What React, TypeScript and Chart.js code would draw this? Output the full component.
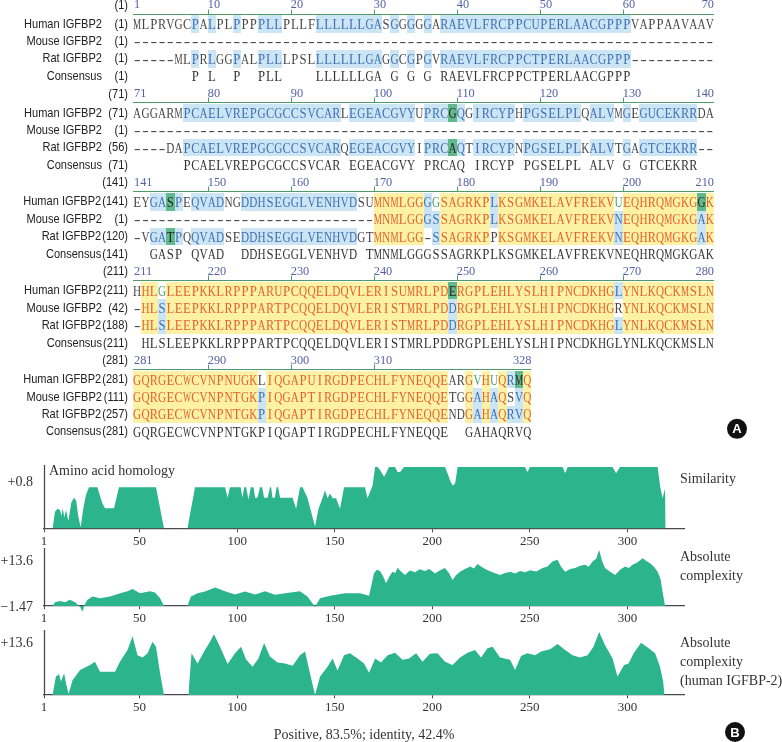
import React, { useEffect, useRef } from 'react';
import { Chart, registerables } from 'chart.js';

Chart.register(...registerables);

// ================= Alignment data (panel A) =================
const blockStarts = [1, 71, 141, 211, 281];
const blockEnds = [70, 140, 210, 280, 328];
const rulerTicks = [
  [10, 20, 30, 40, 50, 60],
  [80, 90, 100, 110, 120, 130],
  [150, 160, 170, 180, 190, 200],
  [220, 230, 240, 250, 260, 270],
  [290, 300, 310],
];
const rowNames = ['Human IGFBP2', 'Mouse IGFBP2', 'Rat IGFBP2', 'Consensus'];
const humanNums = [1, 71, 141, 211, 281];
const mouseNums = [1, 1, 1, 42, 111];
const ratNums = [1, 56, 120, 188, 257];
const consensusNums = [1, 71, 141, 211, 281];

const humanSeq = [
  'MLPRVGCPALPLPPPPLLPLLFLLLLLLGASGGGGGARAEVLFRCPPCUPERLAACGPPPVAPPAAVAAV',
  'AGGARMPCAELVREPGCGCCSVCARLEGEACGVYUPRCGQGIRCYPHPGSELPLQALVMGEGUCEKRRDA',
  'EYGASPEQVADNGDDHSEGGLVENHVDSUMNMLGGGGSAGRKPLKSGMKELAVFREKVUEQHRQMGKGGK',
  'HHLGLEEPKKLRPPPARUPCQQELDQVLERISUMRLPDERGPLEHLYSLHIPNCDKHGLYNLKQCKMSLN',
  'GQRGECWCVNPNUGKLIQGAPUIRGDPECHLFYNEQQEARGVHUQRMQ',
];
const mouseSeq = [
  '----------' + '----------' + '----------' + '----------' + '----------' + '----------' + '----------',
  '----------' + '----------' + '----------' + '----------' + '----------' + '----------' + '----------',
  '----------' + '----------' + '---------' + 'MNMLGGGSSAGRKPLKSGMKELAVFREKVNEQHRQMGKGAK',
  '-HLSLEEPKKLRPPPARTPCQQELDQVLERISTMRLPDDRGPLEHLYSLHIPNCDKHGRYNLKQCKMSLN',
  'GQRGECWCVNPNTGKPIQGAPTIRGDPECHLFYNEQQETGGAHAQSVQ',
];
const ratSeq = [
  '-----MLPRLGGPALPLLLPSLLLLLLLGAGGCGPGVRAEVLFRCPPCTPERLAACGPPP----------',
  '----DAPCAELVREPGCGCCSVCARQEGEACGVYIPRCAQTIRCYPNPGSELPLKALVTGAGTCEKRR--',
  '-VGATPQQVADSEDDHSEGGLVENHVDGTMNMLGG-SSAGRKPPKSGMKELAVFREKVNEQHRQMGKGAK',
  '-HLSLEEPKKLRPPPARTPCQQELDQVLERISTMRLPDDRGPLEHLYSLHIPNCDKHGLYNLKQCKMSLN',
  'GQRGECWCVNPNTGKPIQGAPTIRGDPECHLFYNEQQENDGAHAQRVQ',
];
// '.' = empty consensus column
const consensusSeq = [
  '.......P.L..P..PLL....LLLLLLGA.G.G.G.RAEVLFRCPPCTPERLAACGPPP..........',
  '......PCAELVREPGCGCCSVCAR.EGEACGVY.PRCAQ.IRCYP.PGSELPL.ALV.G.GTCEKRR..',
  '..GASP.QVAD..DDHSEGGLVENHVD.TMNMLGGGSSAGRKPLKSGMKELAVFREKVNEQHRQMGKGAK',
  '.HLSLEEPKKLRPPPARTPCQQELDQVLERISTMRLPDDRGPLEHLYSLHIPNCDKHGLYNLKQCKMSLN',
  'GQRGECWCVNPNTGKPIQGAPTIRGDPECHLFYNEQQE..GAHAQRVQ',
];
// run-length shading codes: y identical, b conserved, g similar, l weakly similar, w none
const humanStyle = [
  'w7b1w1b1w2b1w2b3w4b8w1b1w1b1w1b1w1b23w10',
  'w6b19w1b8w1b3g1b1w1b5w1b7w1b3w1b1w1b7w2',
  'w2b2g1b1w1b4w2b14w2y6b1l1y6b1y14l1y9g1y1',
  'w1y2l1y34g1y19b1y11',
  'y15w1y22w2y1l1y1l1y1b1g1y1',
];
const mouseStyle = [
  'w70',
  'w70',
  'w29y6b2y6b1y14b1y9b1y1',
  'w1y2b1y34b1y19w1y11',
  'y15b1y22w2y1b1y1b1y1w1b1y1',
];
const ratStyle = [
  'w7b1w1b1w2b1w2b3w4b8w1b1w1b1w1b1w1b23w10',
  'w6b19w1b8w1b3g1b1w1b5w1b7w1b3w1b1w1b7w2',
  'w2b2g1b1w1b4w2b14w2y6w1b1y6w1y14b1y9b1y1',
  'w1y2b1y34b1y19b1y11',
  'y15b1y22w2y1b1y1b1y1b1b1y1',
];

// ================= Profile data (panel B) =================
const xTickValues = [1, 50, 100, 150, 200, 250, 300];

const simPos = [5.4, 6.6, 8, 9.2, 10, 10.5, 11.5, 12.3, 13.5, 15, 16.4, 17.5, 18.5, 19.8, 21, 22.5, 24.1, 28.4, 29.5, 31, 32.3, 36.9, 39.4, 58.4, 62.5, 68, 74.5, 78.4, 93.8, 95.1, 96.3, 101.8, 102.7, 103.6, 104.6, 105.8, 107, 108.4, 109.2, 110.4, 111.7, 112.8, 113.8, 115.6, 116.8, 117.4, 118.1, 119.3, 120.2, 121, 122, 128.4, 130.2, 132.2, 133.5, 136, 139.9, 141.7, 143.8, 145, 146.3, 147.6, 148.9, 150.7, 152.7, 154.8, 165.5, 166.8, 169.4, 170.7, 171.9, 173.2, 175.3, 176.6, 177.8, 180.9, 182.2, 183.5, 185.5, 206.5, 207.8, 209.1, 210.4, 211.7, 213, 247.5, 248.8, 250.1, 266.8, 268.1, 269.4, 292.4, 294.2, 296.2, 315.5, 316.7, 318, 319.3, 319.6];
const simVal = [0, 0.27, 0.32, 0.3, 0.2, 0.33, 0.18, 0.3, 0.12, 0.42, 0.5, 0.45, 0.2, 0.02, 0.3, 0.55, 0.67, 0.67, 0.55, 0.4, 0.33, 0.33, 0.67, 0.67, 0, null, 0, 0.67, 0.67, 0.5, 0.67, 0.67, 0.5, 0.67, 0.67, 0.47, 0.67, 0.67, 0.5, 0.5, 0.67, 0.67, 0.5, 0.5, 0.67, 0.67, 0.5, 0.5, 0.67, 0.67, 0.5, 0.5, 0.32, 0.67, 0.67, 0.5, 0.03, 0.32, 0.5, 0.62, 0.49, 0.57, 0.49, 0.49, 0.32, 0.67, 0.67, 0.49, 0.7, 1, 1, 0.95, 0.84, 0.92, 1, 1, 0.92, 0.92, 1, 1, 0.9, 0.78, 0.7, 0.73, 1, 1, 0.92, 1, 1, 0.9, 1, 1, 0.9, 1, 1, 0.7, 0.49, 0.65, 0];

const cxPos = [5.4, 6.6, 9.2, 11.8, 14.3, 16.9, 19.5, 20.7, 21.8, 23.3, 25.9, 29.7, 34.8, 40, 43.8, 46.4, 50.2, 55.3, 57.9, 60.5, 62.5, 68, 74.5, 76.3, 79.7, 83.5, 88.7, 93.8, 98.9, 104, 109.2, 114.3, 119.4, 124.5, 132.2, 136, 139.9, 142.5, 147.6, 155.3, 163, 167.6, 170.1, 171.5, 173.2, 174.8, 176.3, 177.8, 179.6, 181, 182.2, 184, 186, 188.5, 191.2, 193.5, 196.3, 198.5, 201.4, 203.8, 206.5, 208.5, 210.4, 212, 214.2, 216.8, 219.4, 221.3, 223.2, 225.5, 228.3, 231.5, 234.7, 237.3, 239.9, 242.5, 245, 247.5, 250.1, 253.3, 256.5, 259, 261.6, 264.2, 266, 268.1, 270.7, 273.2, 275.8, 278.3, 280.2, 282.1, 284, 285.5, 287, 288.5, 291, 293.7, 296.3, 298.8, 300.7, 302.6, 305.2, 307.8, 309.7, 311.6, 313.6, 315.5, 317, 318, 319.3];
const cxVal = [0, 0.9, 1.2, 0.9, 1.5, 0.9, -0.2, -1.4, 0.3, 1.5, 2.3, 1.9, 2.3, 3.1, 3.6, 4.1, 3.1, 3.6, 3.3, 1.9, 0, null, 0, 2.3, 3.1, 3.5, 4.5, 3.6, 2.8, 3.5, 2.8, 3.6, 2.7, 3.1, 3.6, 2.3, -0.2, 1.9, 2.5, 3.1, 3.1, 2.5, 7.9, 8.8, 8.5, 7.2, 5.5, 7.0, 8.3, 8.0, 9.3, 8.4, 7.5, 8.6, 8.2, 8.9, 8.5, 9.0, 7.9, 8.6, 9.2, 8.0, 6.3, 7.4, 8.3, 9.0, 9.6, 9.1, 10.2, 9.4, 8.7, 8.1, 7.5, 8.0, 8.3, 7.9, 8.5, 8.2, 8.7, 8.4, 9.2, 9.6, 10.8, 11.2, 9.5, 8.3, 9.0, 9.2, 9.8, 10, 9.5, 10.8, 11.5, 13.6, 11.0, 9.2, 8.4, 7.5, 8.8, 9.6, 9.2, 10, 10.6, 11.6, 10.9, 10.4, 9.5, 8.3, 6.5, 3.5, 0];

const hxPos = [5.4, 7.1, 8.7, 9.7, 11.3, 12.3, 13.6, 15.6, 19.5, 24.6, 27.1, 29.7, 33.5, 37.4, 39.9, 43.8, 46.4, 48.9, 51.5, 54.1, 56.6, 58.4, 60.5, 62.5, 68, 75, 76.6, 79.7, 83.5, 86.1, 88.1, 91.2, 95.1, 98.9, 102, 104.5, 107.9, 110.9, 113.8, 116.8, 120.7, 124.5, 128.4, 132.2, 134.8, 137.3, 139.9, 142.5, 146.3, 148.9, 151.4, 154.8, 157.8, 161.7, 165, 167.6, 170.7, 173.7, 177.1, 180.9, 184.8, 188.1, 191.7, 195, 198.8, 202.7, 206.5, 210.4, 214.2, 218.1, 221.9, 225, 228.3, 230.9, 234.7, 239.9, 242.4, 245.5, 248.8, 252.7, 255.8, 260.4, 264.2, 268.1, 271.9, 275.7, 279.6, 282.6, 285.5, 288.5, 292.4, 294.9, 298.3, 300.6, 303.2, 307, 310.9, 314.2, 316.7, 318.3, 319];
const hxVal = [0, 4.0, 4.5, 2.9, 4.7, 2.5, 0.2, 3.2, 5.4, 6.5, 7.2, 5.0, 5.0, 5.0, 7.2, 9.7, 12.7, 8.6, 8.1, 9.0, 11.5, 10.4, 4.7, 0, null, 0, 9.0, 6.8, 9.7, 11.5, 13.1, 10.4, 6.7, 9.0, 10.4, 7.7, 6.1, 7.9, 11.2, 8.3, 7.0, 6.8, 6.3, 8.6, 9.4, 4.7, 0, 4.0, 6.1, 7.9, 5.3, 8.6, 9.0, 7.9, 6.8, 4.8, 7.9, 7.0, 8.6, 9.1, 7.6, 7.9, 9.0, 7.2, 8.9, 9.0, 7.2, 6.5, 8.1, 9.1, 9.7, 8.1, 10.1, 10.4, 8.1, 7.6, 5.4, 8.4, 9.0, 8.6, 9.4, 9.9, 11.0, 9.7, 8.6, 8.1, 8.6, 10.4, 13.6, 10.8, 7.9, 4.0, 6.5, 6.8, 9.0, 11.3, 10.1, 9.0, 6.1, 2.9, 0];

// ================= helpers =================
const SERIF = '"Liberation Serif", "Times New Roman", serif';
const SANS = '"Liberation Sans", Arial, sans-serif';
const FILL = '#2cb48d';
const AXIS = '#4a4a4a';

const SHADE: any = {
  y: { bg: '#fcf1a5', fg: '#e4632c' },
  b: { bg: '#cce5f4', fg: '#3f71b4' },
  g: { bg: '#62b98d', fg: '#262626' },
  w: { bg: null, fg: '#474747' },
  l: { bg: null, fg: '#4d9f6c' },
};

function expandStyle(rle: string): string {
  let out = '';
  const re = /([a-z])(\d+)/g;
  let m: any;
  while ((m = re.exec(rle))) out += m[1].repeat(parseInt(m[2], 10));
  return out;
}

function scaledText(ctx: any, text: string, x: number, y: number, align: string, sx: number) {
  ctx.save();
  ctx.translate(x, y);
  ctx.scale(sx, 1);
  ctx.textAlign = align;
  ctx.fillText(text, 0, 0);
  ctx.restore();
}

const BLOCK_STEP = 5.11;
const RULER_TEXT = -1.09;
const RULER_LINE = -0.6;

const alignmentPlugin = {
  id: 'alignmentDraw',
  afterDraw(chart: any) {
    const { ctx, chartArea } = chart;
    const xs = chart.scales.x;
    const ys = chart.scales.y;
    const cw = xs.getPixelForValue(1) - xs.getPixelForValue(0);
    const rows = [
      { seq: humanSeq, style: humanStyle, nums: humanNums },
      { seq: mouseSeq, style: mouseStyle, nums: mouseNums },
      { seq: ratSeq, style: ratStyle, nums: ratNums },
      { seq: consensusSeq, style: null as any, nums: consensusNums },
    ];
    ctx.save();
    blockStarts.forEach((start, k) => {
      const base = k * BLOCK_STEP;
      const len = blockEnds[k] - start + 1;

      // ruler
      const yl = Math.round(ys.getPixelForValue(base + RULER_LINE)) + 0.5;
      const yt = ys.getPixelForValue(base + RULER_TEXT);
      ctx.strokeStyle = '#4e9a69';
      ctx.lineWidth = 1.2;
      ctx.beginPath();
      ctx.moveTo(xs.getPixelForValue(0), yl);
      ctx.lineTo(xs.getPixelForValue(len), yl);
      ctx.stroke();
      ctx.lineWidth = 1;
      rulerTicks[k].forEach((t) => {
        const tx = Math.round(xs.getPixelForValue(t - start)) + 0.5;
        ctx.beginPath();
        ctx.moveTo(tx, yl);
        ctx.lineTo(tx, yl - 5);
        ctx.stroke();
      });
      ctx.fillStyle = '#5661a8';
      ctx.font = '13px ' + SERIF;
      ctx.textBaseline = 'middle';
      scaledText(ctx, String(start), xs.getPixelForValue(0) + 1, yt, 'left', 0.95);
      rulerTicks[k].forEach((t) => {
        scaledText(ctx, String(t), xs.getPixelForValue(t - start), yt, 'left', 0.95);
      });
      scaledText(ctx, String(blockEnds[k]), xs.getPixelForValue(len), yt, 'right', 0.95);
      ctx.fillStyle = '#222';
      ctx.font = '13px ' + SANS;
      scaledText(ctx, '(' + start + ')', chartArea.left - 5, yt, 'right', 0.85);

      // shading
      rows.forEach((row, r) => {
        if (!row.style) return;
        const st = expandStyle(row.style[k]);
        const top = Math.round(ys.getPixelForValue(base + r - 0.5));
        const bot = Math.round(ys.getPixelForValue(base + r + 0.5));
        for (let i = 0; i < len; i++) {
          const c = SHADE[st[i]];
          if (!c || !c.bg) continue;
          const x0 = Math.round(xs.getPixelForValue(i));
          const x1 = Math.round(xs.getPixelForValue(i + 1));
          ctx.fillStyle = c.bg;
          ctx.fillRect(x0, top, x1 - x0, bot - top);
        }
      });

      // residues
      ctx.font = '15px ' + SERIF;
      ctx.textBaseline = 'middle';
      rows.forEach((row, r) => {
        const seq = row.seq[k];
        const st = row.style ? expandStyle(row.style[k]) : null;
        const yc = ys.getPixelForValue(base + r) + 1;
        for (let i = 0; i < len; i++) {
          const ch = seq[i];
          if (!ch || ch === '.') continue;
          ctx.fillStyle = st ? SHADE[st[i]].fg : '#333';
          const xc = xs.getPixelForValue(i + 0.5);
          let s;
          if (ch === '-') {
            s = 1.3;
          } else {
            const w = ctx.measureText(ch).width;
            s = Math.min(0.85, (cw - 0.2) / w);
          }
          scaledText(ctx, ch, xc, yc, 'center', s);
        }
      });

      // row labels
      ctx.fillStyle = '#222';
      ctx.font = '13px ' + SANS;
      rows.forEach((row, r) => {
        const yc = ys.getPixelForValue(base + r);
        const numText = '(' + row.nums[k] + ')';
        const numRight = chartArea.left - 5;
        const numW = ctx.measureText(numText).width * 0.85;
        scaledText(ctx, numText, numRight, yc, 'right', 0.85);
        const nameRight = Math.min(chartArea.left - 31, numRight - numW - 1);
        scaledText(ctx, rowNames[r], nameRight, yc, 'right', 0.85);
      });
    });

    // circled panel letter A
    const lastBase = 4 * BLOCK_STEP;
    const cx = chartArea.right + 23;
    const cy = ys.getPixelForValue(lastBase + 3) - 3;
    ctx.fillStyle = '#111';
    ctx.beginPath();
    ctx.arc(cx, cy, 10, 0, Math.PI * 2);
    ctx.fill();
    ctx.fillStyle = '#fff';
    ctx.font = 'bold 13px ' + SANS;
    ctx.textAlign = 'center';
    ctx.textBaseline = 'middle';
    ctx.fillText('A', cx, cy + 1);
    ctx.restore();
  },
};

const profilePlugin = {
  id: 'profileDecor',
  afterDraw(chart: any, _args: any, opts: any) {
    const { ctx, chartArea } = chart;
    const ys = chart.scales.y;
    const y0 = Math.round(ys.getPixelForValue(0)) + 0.5;
    ctx.save();
    ctx.strokeStyle = AXIS;
    ctx.lineWidth = 1.3;
    ctx.beginPath();
    ctx.moveTo(Math.round(chartArea.left) + 0.5, chartArea.top - 2);
    ctx.lineTo(Math.round(chartArea.left) + 0.5, y0);
    ctx.stroke();

    ctx.fillStyle = '#333';
    ctx.font = '14px ' + SERIF;
    ctx.textBaseline = 'middle';
    ctx.textAlign = 'right';
    (opts.yLabels || []).forEach((l: any) => {
      ctx.fillText(l.text, chartArea.left - 11, ys.getPixelForValue(l.value) + l.dy);
    });
    ctx.textAlign = 'left';
    (opts.sideLines || []).forEach((t: string, i: number) => {
      ctx.fillText(t, chartArea.right - 4, chartArea.top + opts.sideTop + i * 19);
    });
    if (opts.title) {
      ctx.fillText(opts.title, chartArea.left + 5, chartArea.top + 4);
    }
    if (opts.footer) {
      ctx.textAlign = 'center';
      ctx.fillText(opts.footer, (chartArea.left + chartArea.right) / 2, chartArea.bottom + 40);
      const bx = chartArea.right + 51;
      const by = chartArea.bottom + 37;
      ctx.fillStyle = '#111';
      ctx.beginPath();
      ctx.arc(bx, by, 10, 0, Math.PI * 2);
      ctx.fill();
      ctx.fillStyle = '#fff';
      ctx.font = 'bold 13px ' + SANS;
      ctx.fillText('B', bx, by + 1);
    }
    ctx.restore();
  },
};

function profileConfig(pos: number[], val: (number | null)[], yMin: number, yMax: number, pad: any, decor: any) {
  const points = pos.map((p, i) => ({ x: p, y: val[i] }));
  return {
    type: 'line',
    data: {
      datasets: [
        {
          data: points,
          borderWidth: 0,
          borderColor: FILL,
          backgroundColor: FILL,
          pointRadius: 0,
          fill: 'origin',
          tension: 0,
          spanGaps: false,
        },
      ],
    },
    options: {
      animation: false,
      responsive: false,
      events: [],
      layout: { padding: pad },
      plugins: { legend: { display: false }, tooltip: { enabled: false }, profileDecor: decor },
      scales: {
        x: {
          type: 'linear',
          min: 1,
          max: 329,
          position: { y: 0 },
          afterBuildTicks: (s: any) => {
            s.ticks = xTickValues.map((v) => ({ value: v }));
          },
          grid: { display: true, drawOnChartArea: false, drawTicks: true, tickLength: 3, color: AXIS, lineWidth: 1 },
          border: { display: true, color: AXIS, width: 1.3 },
          ticks: {
            autoSkip: false,
            maxRotation: 0,
            padding: 2,
            color: '#333',
            font: { family: SERIF, size: 13 },
          },
        },
        y: { type: 'linear', display: false, min: yMin, max: yMax },
      },
    },
    plugins: [profilePlugin],
  };
}

export default function App() {
  const alignRef = useRef<HTMLCanvasElement>(null);
  const c1 = useRef<HTMLCanvasElement>(null);
  const c2 = useRef<HTMLCanvasElement>(null);
  const c3 = useRef<HTMLCanvasElement>(null);

  useEffect(() => {
    const charts: any[] = [];
    charts.push(
      new Chart(alignRef.current as any, {
        type: 'scatter',
        data: { datasets: [] },
        options: {
          animation: false,
          responsive: false,
          events: [],
          layout: { padding: { left: 133, right: 68, top: 0, bottom: 0 } },
          plugins: { legend: { display: false }, tooltip: { enabled: false } },
          scales: {
            x: { type: 'linear', display: false, min: 0, max: 70 },
            y: { type: 'linear', display: false, min: -1.38, max: 24.77, reverse: true },
          },
        },
        plugins: [alignmentPlugin],
      } as any)
    );
    charts.push(
      new Chart(
        c1.current as any,
        profileConfig(simPos, simVal, 0, 1, { left: 44, right: 98, top: 12, bottom: 22.6 }, {
          yLabels: [{ text: '+0.8', value: 0.8, dy: 3 }],
          sideLines: ['Similarity'],
          sideTop: 12,
          title: 'Amino acid homology',
        }) as any
      )
    );
    charts.push(
      new Chart(
        c2.current as any,
        profileConfig(cxPos, cxVal, -1.47, 13.6, { left: 44, right: 98, top: 10, bottom: 20 }, {
          yLabels: [
            { text: '+13.6', value: 13.6, dy: 11 },
            { text: '\u22121.47', value: -1.47, dy: -5 },
          ],
          sideLines: ['Absolute', 'complexity'],
          sideTop: 7,
        }) as any
      )
    );
    charts.push(
      new Chart(
        c3.current as any,
        profileConfig(hxPos, hxVal, 0, 13.6, { left: 44, right: 98, top: 7, bottom: 47 }, {
          yLabels: [{ text: '+13.6', value: 13.6, dy: 11 }],
          sideLines: ['Absolute', 'complexity', '(human IGFBP-2)'],
          sideTop: 11,
          footer: 'Positive, 83.5%; identity, 42.4%',
        }) as any
      )
    );
    return () => charts.forEach((c) => c.destroy());
  }, []);

  const abs = (top: number): any => ({ position: 'absolute', left: 0, top });
  return (
    <div style={{ position: 'absolute', left: 0, top: 0, width: 782, height: 742, background: '#fff', overflow: 'hidden' }}>
      <canvas ref={alignRef} width={782} height={455} style={abs(0)} />
      <canvas ref={c1} width={782} height={96} style={abs(455)} />
      <canvas ref={c2} width={782} height={92} style={abs(540)} />
      <canvas ref={c3} width={782} height={117} style={abs(625)} />
    </div>
  );
}
